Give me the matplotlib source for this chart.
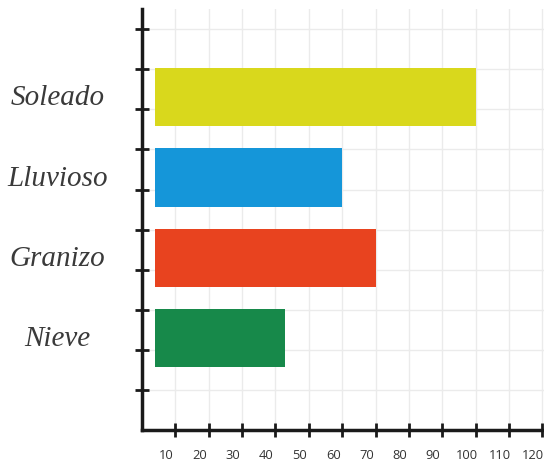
import matplotlib.pyplot as plt
from matplotlib.transforms import ScaledTranslation

categories = ['Nieve', 'Granizo', 'Lluvioso', 'Soleado']
values = [43, 70, 60, 100]
colors = ['#17894a', '#e8431f', '#1596d9', '#d9d81c']
x_ticks = [10, 20, 30, 40, 50, 60, 70, 80, 90, 100, 110, 120]
y_ticks = [1, 2, 3, 4, 5, 6, 7, 8, 9, 10]

fig = plt.figure(figsize=(5.44, 4.64), dpi=100)
ax = fig.add_axes([0.261, 0.071, 0.739, 0.907])

bar_start = 4
pos = [2.3 + 2 * i for i in range(len(categories))]
widths = [v - bar_start for v in values]
ax.barh(pos, widths, left=bar_start, height=1.45, color=colors, zorder=3)

ax.set_xlim(0, 120.5)
ax.set_ylim(0, 10.5)
ax.set_xticks(x_ticks)
ax.set_xticklabels([str(t) for t in x_ticks], fontsize=9.3, color='#333333',
                   family='Open Sans')
ax.set_yticks(y_ticks)
ax.set_yticklabels([])
ax.grid(True, color='#ebebeb', linewidth=1, zorder=0)
ax.set_axisbelow(True)

for s in ['top', 'right']:
    ax.spines[s].set_visible(False)
for s in ['left', 'bottom']:
    ax.spines[s].set_linewidth(2.5)
    ax.spines[s].set_color('#1a1a1a')

ax.tick_params(axis='both', direction='inout', length=10, width=2,
               color='#1a1a1a')
ax.tick_params(axis='x', pad=8)

# labels sit a bit left of their ticks in the original
shift = ScaledTranslation(-9 / 100, 0, fig.dpi_scale_trans)
for lbl in ax.get_xticklabels():
    lbl.set_transform(lbl.get_transform() + shift)

for p, name in zip(pos, categories):
    ax.text(-25.3, p, name, ha='center', va='center', fontsize=21,
            style='italic', family='Liberation Serif', color='#3a3a3a',
            clip_on=False)

fig.savefig('out.png', dpi=100)
